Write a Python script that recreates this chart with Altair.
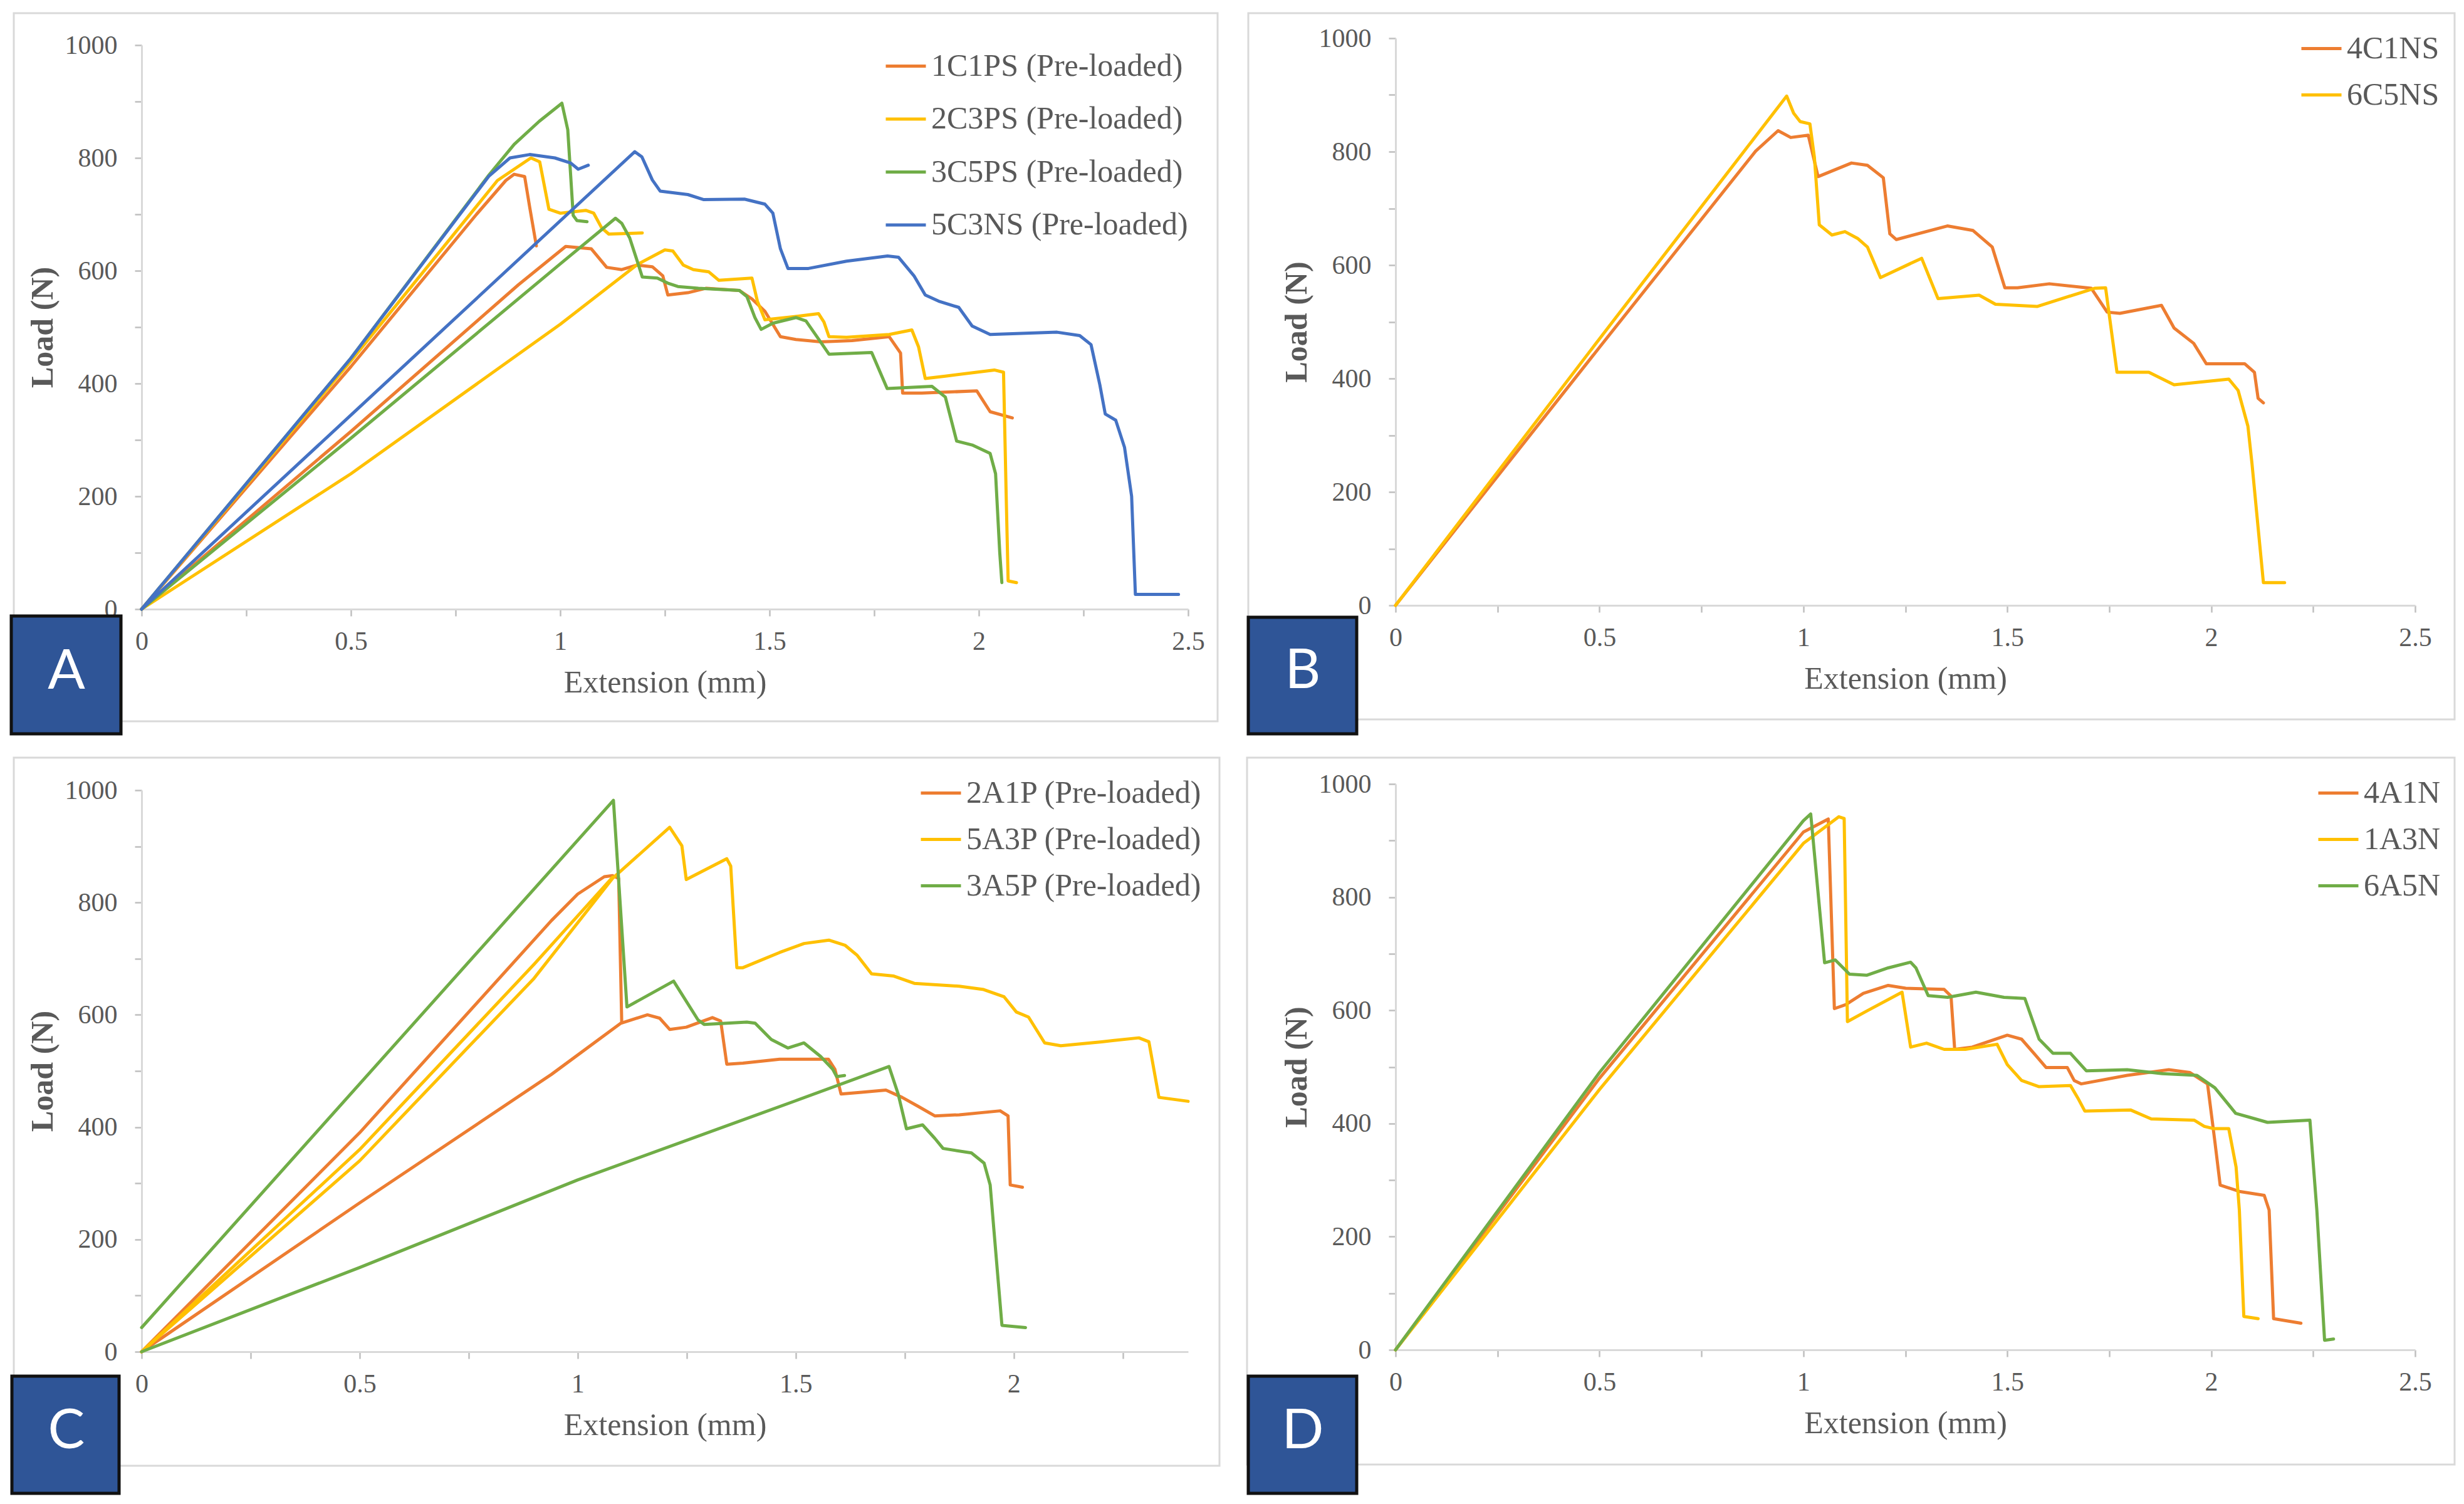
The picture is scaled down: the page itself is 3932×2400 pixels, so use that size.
import altair as alt
import pandas as pd

# ---------------- colours / names ----------------
ORANGE, YELLOW, GREEN, BLUE = "#ED7D31", "#FFC000", "#70AD47", "#4472C4"

# ---------------- Panel A ----------------
A_NAMES = ["1C1PS (Pre-loaded)", "2C3PS (Pre-loaded)", "3C5PS (Pre-loaded)", "5C3NS (Pre-loaded)"]
A_1C1PS_1_X = [0, 0.5, 0.8, 0.87, 0.89, 0.915, 0.927, 0.943]
A_1C1PS_1_Y = [0, 430, 700, 760, 771, 767, 713, 644]
A_1C1PS_2_X = [0, 0.5, 0.9, 1.013, 1.074, 1.111, 1.147, 1.184, 1.22, 1.245, 1.257, 1.305, 1.349, 1.428, 1.458,
               1.489, 1.526, 1.563, 1.623, 1.697, 1.786, 1.813, 1.818, 1.864, 1.995, 2.027, 2.08]
A_1C1PS_2_Y = [0, 315, 575, 643, 639, 606, 602, 610, 607, 591, 557, 561, 569, 565, 550,
               528, 483, 478, 474, 476, 483, 454, 383, 383, 387, 350, 339]
A_2C3PS_1_X = [0, 0.5, 0.85, 0.93, 0.951, 0.973, 1.0, 1.061, 1.08, 1.099, 1.116, 1.196]
A_2C3PS_1_Y = [0, 440, 760, 800, 793, 709, 702, 707, 702, 676, 665, 667]
A_2C3PS_2_X = [0, 0.5, 1.0, 1.184, 1.25, 1.269, 1.294, 1.318, 1.355, 1.379, 1.458, 1.471, 1.489, 1.563, 1.617,
               1.63, 1.642, 1.684, 1.786, 1.84, 1.856, 1.872, 1.92, 2.037, 2.059, 2.065, 2.07, 2.09]
A_2C3PS_2_Y = [0, 240, 505, 611, 637, 635, 610, 602, 598, 583, 587, 546, 513, 519, 524,
               509, 483, 482, 487, 495, 465, 409, 413, 424, 420, 213, 50, 47]
A_3C5PS_1_X = [0, 0.5, 0.83, 0.89, 0.95, 1.004, 1.018, 1.031, 1.04, 1.064]
A_3C5PS_1_Y = [0, 445, 770, 824, 865, 897, 850, 698, 689, 687]
A_3C5PS_2_X = [0, 0.5, 1.0, 1.132, 1.147, 1.166, 1.184, 1.196, 1.232, 1.257, 1.281, 1.33, 1.428, 1.446, 1.465,
               1.48, 1.508, 1.563, 1.587, 1.617, 1.642, 1.744, 1.781, 1.888, 1.92, 1.947, 1.984, 2.027, 2.04,
               2.05, 2.055]
A_3C5PS_2_Y = [0, 303, 612, 693, 684, 658, 617, 589, 587, 578, 572, 569, 565, 554, 517,
               496, 507, 517, 511, 479, 452, 455, 391, 395, 376, 298, 291, 276, 240,
               100, 47]
A_5C3NS_1_X = [0, 0.5, 0.83, 0.88, 0.927, 0.987, 1.025, 1.043, 1.067]
A_5C3NS_1_Y = [0, 445, 768, 800, 806, 800, 791, 780, 787]
A_5C3NS_2_X = [0, 0.5, 1.178, 1.195, 1.22, 1.239, 1.305, 1.343, 1.44, 1.489, 1.508, 1.526, 1.544, 1.593, 1.684,
               1.782, 1.808, 1.845, 1.872, 1.904, 1.952, 1.984, 2.027, 2.187, 2.241, 2.268, 2.289, 2.302, 2.327,
               2.348, 2.365, 2.374, 2.477]
A_5C3NS_2_Y = [0, 344, 811, 802, 761, 741, 735, 726, 727, 718, 702, 639, 604, 604, 617,
               626, 624, 591, 557, 546, 535, 502, 487, 491, 485, 469, 398, 346, 335,
               287, 200, 26, 26]

# ---------------- Panel B ----------------
B_NAMES = ["4C1NS", "6C5NS"]
B_4C1NS_X = [0, 0.5, 0.883, 0.938, 0.969, 1.012, 1.036, 1.118, 1.157, 1.196, 1.212, 1.228, 1.353, 1.416, 1.463,
             1.494, 1.525, 1.603, 1.706, 1.745, 1.776, 1.878, 1.909, 1.957, 1.988, 2.082, 2.106, 2.115, 2.128]
B_4C1NS_Y = [0, 455, 801, 837, 825, 829, 756, 780, 776, 754, 655, 645, 669, 661, 632,
             560, 560, 567, 559, 517, 515, 529, 489, 462, 426, 426, 411, 365, 357]
B_6C5NS_X = [0, 0.5, 0.959, 0.976, 0.992, 1.016, 1.027, 1.039, 1.07, 1.102, 1.133, 1.157, 1.189, 1.29, 1.33,
             1.431, 1.471, 1.573, 1.714, 1.741, 1.769, 1.847, 1.909, 2.043, 2.066, 2.09, 2.1, 2.115, 2.128, 2.18]
B_6C5NS_Y = [0, 470, 898, 868, 853, 849, 790, 671, 653, 659, 647, 632, 578, 612, 541,
             547, 531, 527, 559, 560, 411, 411, 389, 399, 379, 316, 250, 137, 40, 40]

# ---------------- Panel C ----------------
C_NAMES = ["2A1P (Pre-loaded)", "5A3P (Pre-loaded)", "3A5P (Pre-loaded)"]
C_2A1P_1_X = [0, 0.5, 0.94, 1.0, 1.061, 1.08, 1.094, 1.101]
C_2A1P_1_Y = [0, 390, 768, 815, 846, 848, 843, 587]
C_2A1P_2_X = [0, 0.5, 0.94, 1.099, 1.16, 1.188, 1.211, 1.249, 1.309, 1.328, 1.342, 1.379, 1.463, 1.575, 1.59,
              1.604, 1.651, 1.707, 1.744, 1.781, 1.819, 1.875, 1.969, 1.987, 1.992, 2.02]
C_2A1P_2_Y = [0, 265, 494, 585, 600, 594, 574, 578, 595, 589, 512, 514, 521, 521, 503,
              459, 462, 466, 453, 437, 420, 422, 429, 420, 297, 293]
C_5A3P_1_X = [0, 0.5, 0.9, 1.08]
C_5A3P_1_Y = [0, 360, 690, 845]
C_5A3P_2_X = [0, 0.5, 0.9, 1.08, 1.211, 1.239, 1.249, 1.342, 1.351, 1.365, 1.379, 1.463, 1.519, 1.576, 1.613,
              1.641, 1.674, 1.725, 1.772, 1.875, 1.931, 1.978, 2.006, 2.034, 2.071, 2.108, 2.202, 2.287, 2.31,
              2.333, 2.4]
C_5A3P_2_Y = [0, 340, 665, 843, 934, 901, 841, 878, 865, 684, 684, 711, 727, 733, 724,
              706, 673, 669, 656, 651, 645, 632, 605, 596, 550, 545, 552, 559, 552,
              453, 446]
C_3A5P_1_X = [0, 0.5, 1.082, 1.113, 1.22, 1.276, 1.29, 1.388, 1.407, 1.444, 1.482, 1.519, 1.557, 1.585, 1.594,
              1.612]
C_3A5P_1_Y = [43, 477, 982, 614, 660, 591, 583, 587, 585, 556, 541, 550, 526, 503, 490,
              492]
C_3A5P_2_X = [0, 0.5, 1.0, 1.5, 1.714, 1.735, 1.754, 1.791, 1.819, 1.838, 1.903, 1.932, 1.946, 1.955, 1.973, 2.027]
C_3A5P_2_Y = [0, 150, 306, 447, 508, 459, 397, 404, 380, 362, 354, 336, 297, 213, 47, 43]

# ---------------- Panel D ----------------
D_NAMES = ["4A1N", "1A3N", "6A5N"]
D_4A1N_X = [0, 0.5, 1.0, 1.061, 1.076, 1.104, 1.147, 1.208, 1.251, 1.345, 1.362, 1.371, 1.414, 1.5, 1.535,
            1.569, 1.595, 1.647, 1.664, 1.681, 1.794, 1.896, 1.948, 1.991, 2.009, 2.022, 2.069, 2.13, 2.142,
            2.153, 2.22]
D_4A1N_Y = [0, 480, 915, 938, 603, 610, 630, 644, 639, 637, 625, 531, 535, 556, 549,
            521, 499, 499, 476, 470, 485, 495, 490, 470, 368, 291, 280, 273, 247,
            55, 47]
D_1A3N_X = [0, 0.5, 1.0, 1.087, 1.1, 1.108, 1.156, 1.242, 1.263, 1.302, 1.345, 1.397, 1.475, 1.5, 1.535,
            1.578, 1.655, 1.673, 1.69, 1.802, 1.853, 1.958, 1.983, 2.005, 2.043, 2.061, 2.069, 2.08, 2.115]
D_1A3N_Y = [0, 460, 895, 942, 939, 580, 599, 632, 535, 542, 531, 531, 540, 504, 476,
            465, 467, 445, 422, 424, 408, 406, 395, 391, 391, 323, 247, 59, 55]
D_6A5N_X = [0, 0.5, 1.0, 1.018, 1.052, 1.078, 1.113, 1.156, 1.208, 1.263, 1.276, 1.306, 1.354, 1.423, 1.492,
            1.543, 1.578, 1.612, 1.655, 1.694, 1.794, 1.88, 1.965, 2.009, 2.06, 2.138, 2.242, 2.259, 2.278, 2.3]
D_6A5N_Y = [0, 490, 935, 947, 684, 689, 664, 662, 675, 685, 675, 626, 623, 632, 623,
            621, 549, 524, 524, 493, 495, 488, 485, 463, 418, 402, 406, 247, 17, 19]

# ---------------- axis tick values ----------------
X_TICKS = [0, 0.25, 0.5, 0.75, 1.0, 1.25, 1.5, 1.75, 2.0, 2.25, 2.5]
Y_TICKS = [0, 100, 200, 300, 400, 500, 600, 700, 800, 900, 1000]


def rows(name, seg, xs, ys):
    return [{"series": name, "seg": f"{name}|{seg}", "i": k, "x": x, "y": y}
            for k, (x, y) in enumerate(zip(xs, ys))]


dfA = pd.DataFrame(
    rows(A_NAMES[0], 1, A_1C1PS_1_X, A_1C1PS_1_Y) + rows(A_NAMES[0], 2, A_1C1PS_2_X, A_1C1PS_2_Y)
    + rows(A_NAMES[1], 1, A_2C3PS_1_X, A_2C3PS_1_Y) + rows(A_NAMES[1], 2, A_2C3PS_2_X, A_2C3PS_2_Y)
    + rows(A_NAMES[2], 1, A_3C5PS_1_X, A_3C5PS_1_Y) + rows(A_NAMES[2], 2, A_3C5PS_2_X, A_3C5PS_2_Y)
    + rows(A_NAMES[3], 1, A_5C3NS_1_X, A_5C3NS_1_Y) + rows(A_NAMES[3], 2, A_5C3NS_2_X, A_5C3NS_2_Y))
dfB = pd.DataFrame(rows(B_NAMES[0], 1, B_4C1NS_X, B_4C1NS_Y) + rows(B_NAMES[1], 1, B_6C5NS_X, B_6C5NS_Y))
dfC = pd.DataFrame(
    rows(C_NAMES[0], 1, C_2A1P_1_X, C_2A1P_1_Y) + rows(C_NAMES[0], 2, C_2A1P_2_X, C_2A1P_2_Y)
    + rows(C_NAMES[1], 1, C_5A3P_1_X, C_5A3P_1_Y) + rows(C_NAMES[1], 2, C_5A3P_2_X, C_5A3P_2_Y)
    + rows(C_NAMES[2], 1, C_3A5P_1_X, C_3A5P_1_Y) + rows(C_NAMES[2], 2, C_3A5P_2_X, C_3A5P_2_Y))
dfD = pd.DataFrame(rows(D_NAMES[0], 1, D_4A1N_X, D_4A1N_Y) + rows(D_NAMES[1], 1, D_1A3N_X, D_1A3N_Y)
                   + rows(D_NAMES[2], 1, D_6A5N_X, D_6A5N_Y))

SERIF = "Liberation Serif"
GREY_TXT = "#595959"
dummy = pd.DataFrame({"k": [0]})


def panel(df, names, colors, xmax, width, height, y_top, frame, box, letter, letter_xy, legend_xy, row_pad):
    xvals = [v for v in X_TICKS if v <= xmax + 1e-9]
    x_axis = alt.Axis(values=xvals, labelExpr="(datum.value * 2) % 1 == 0 ? toString(datum.value) : ''",
                      labelFont=SERIF, labelFontSize=42, labelColor=GREY_TXT, labelPadding=20,
                      labelOverlap=False, labelFlush=False, tickSize=11, tickWidth=2.5, tickColor="#bfbfbf",
                      domainColor="#d9d9d9", domainWidth=3, grid=False, title="Extension (mm)",
                      titleFont=SERIF, titleFontSize=50, titleFontWeight="normal", titleColor=GREY_TXT,
                      titlePadding=20)
    y_axis = alt.Axis(values=Y_TICKS, labelExpr="datum.value % 200 == 0 ? toString(datum.value) : ''",
                      labelFont=SERIF, labelFontSize=42, labelColor=GREY_TXT, labelPadding=28,
                      labelOverlap=False, tickSize=11, tickWidth=2.5, tickColor="#bfbfbf",
                      domainColor="#d9d9d9", domainWidth=3, grid=False, title="Load (N)",
                      titleFont=SERIF, titleFontSize=50, titleFontWeight="bold", titleColor=GREY_TXT,
                      titlePadding=10)
    legend = alt.Legend(orient="none", legendX=legend_xy[0], legendY=legend_xy[1], labelFont=SERIF,
                        labelFontSize=50, labelColor=GREY_TXT, labelLimit=2000, symbolType="stroke",
                        symbolSize=4096, symbolStrokeWidth=5, labelOffset=6, rowPadding=row_pad, padding=0)
    lines = alt.Chart(df).mark_line(strokeWidth=5, strokeJoin="round", strokeCap="round").encode(
        x=alt.X("x:Q", scale=alt.Scale(domain=[0, xmax], nice=False), axis=x_axis),
        y=alt.Y("y:Q", scale=alt.Scale(domain=[0, 1000], nice=False, range=[height, y_top]), axis=y_axis),
        color=alt.Color("series:N", scale=alt.Scale(domain=names, range=colors), legend=legend, title=None),
        detail="seg:N",
        order=alt.Order("i:Q"),
    )
    frame_l = alt.Chart(dummy).mark_rect(fillOpacity=0, stroke="#d9d9d9", strokeWidth=3).encode(
        x=alt.value(frame[0]), x2=alt.value(frame[1]), y=alt.value(frame[2]), y2=alt.value(frame[3]))
    box_l = alt.Chart(dummy).mark_rect(fill="#2F5597", stroke="#111111", strokeWidth=5).encode(
        x=alt.value(box[0]), x2=alt.value(box[1]), y=alt.value(box[2]), y2=alt.value(box[3]))
    text_l = alt.Chart(dummy).mark_text(text=letter, font="Lato", fontSize=88, color="white",
                                        align="center", baseline="alphabetic").encode(
        x=alt.value(letter_xy[0]), y=alt.value(letter_xy[1]))
    return alt.layer(frame_l, lines, box_l, text_l).properties(width=width, height=height)


pA = panel(dfA, A_NAMES, [ORANGE, YELLOW, GREEN, BLUE], 2.5, 1670, 911, 11,
           (-204, 1717, -40, 1090), (-208, -33, 922, 1110), "A", (-120, 1038), (1185, 10), 24.5)
pB = panel(dfB, B_NAMES, [ORANGE, YELLOW], 2.5, 1627, 905, 0,
           (-235, 1690, -40, 1087), (-235, -62, 924, 1110), "B", (-148, 1037), (1443, -18), 14)
pC = panel(dfC, C_NAMES, [ORANGE, YELLOW, GREEN], 2.4, 1670, 906, 10,
           (-204, 1720, -42, 1088), (-207, -36, 945, 1132), "C", (-120, 1060), (1241, -20), 14)
pD = panel(dfD, D_NAMES, [ORANGE, YELLOW, GREEN], 2.5, 1627, 903, 0,
           (-237, 1690, -42, 1086), (-235, -62, 945, 1132), "D", (-148, 1060), (1470, -20), 14)

row1 = alt.hconcat(pA, pB, spacing=44).resolve_scale(x="independent", y="independent", color="independent")
row2 = alt.hconcat(pC, pD, spacing=40).resolve_scale(x="independent", y="independent", color="independent")
chart = alt.vconcat(row1, row2, spacing=33).resolve_scale(
    x="independent", y="independent", color="independent").properties(
    padding={"left": 7, "top": 11, "right": 5, "bottom": 5}, background="white"
).configure_view(strokeWidth=0)

chart.save("out.html", embed_options={"renderer": "svg", "actions": False})
